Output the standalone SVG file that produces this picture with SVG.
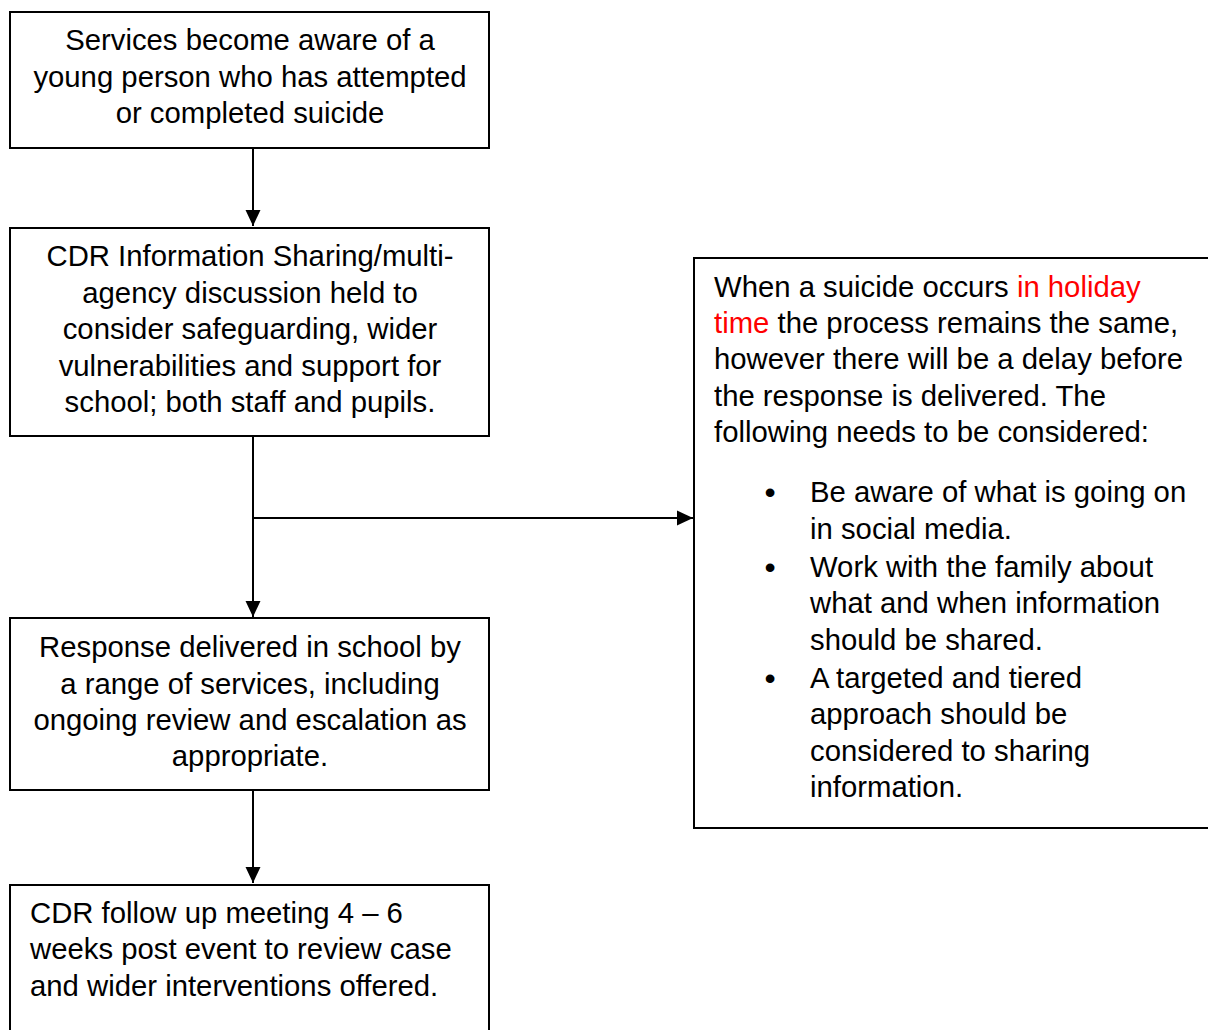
<svg xmlns="http://www.w3.org/2000/svg" width="1208" height="1030" viewBox="0 0 1208 1030">
<style>
.box{fill:#fff;stroke:#000;stroke-width:2}
.t{font-family:"Liberation Sans",Arial,sans-serif;font-size:29.3px;fill:#000}
.c{text-anchor:middle}
.red{fill:#ff0000}
.bul{font-family:"Liberation Sans",Arial,sans-serif;font-size:32px;fill:#000;text-anchor:middle}
.conn{stroke:#000;stroke-width:2;fill:none}
</style>
<defs>
<marker id="ah" markerUnits="userSpaceOnUse" markerWidth="16" markerHeight="16" viewBox="0 0 16 16" refX="16" refY="8" orient="auto">
<path d="M0,0.5 L16,8 L0,15.5 z" fill="#000"/>
</marker>
</defs>
<rect width="1208" height="1030" fill="#fff"/>
<g id="connectors">
<line class="conn" x1="253" y1="148" x2="253" y2="226" marker-end="url(#ah)"/>
<line class="conn" x1="253" y1="436" x2="253" y2="617" marker-end="url(#ah)"/>
<line class="conn" x1="253" y1="518" x2="693" y2="518" marker-end="url(#ah)"/>
<line class="conn" x1="253" y1="790" x2="253" y2="883" marker-end="url(#ah)"/>
</g>
<g id="node1">
<rect class="box" x="10" y="12" width="479" height="136"/>
<text class="t c" x="250" y="50">Services become aware of a</text>
<text class="t c" x="250" y="87">young person who has attempted</text>
<text class="t c" x="250" y="123">or completed suicide</text>
</g>
<g id="node2">
<rect class="box" x="10" y="228" width="479" height="208"/>
<text class="t c" x="250" y="266">CDR Information Sharing/multi-</text>
<text class="t c" x="250" y="303">agency discussion held to</text>
<text class="t c" x="250" y="339">consider safeguarding, wider</text>
<text class="t c" x="250" y="376">vulnerabilities and support for</text>
<text class="t c" x="250" y="412">school; both staff and pupils.</text>
</g>
<g id="node3">
<rect class="box" x="10" y="618" width="479" height="172"/>
<text class="t c" x="250" y="657">Response delivered in school by</text>
<text class="t c" x="250" y="694">a range of services, including</text>
<text class="t c" x="250" y="730">ongoing review and escalation as</text>
<text class="t c" x="250" y="766">appropriate.</text>
</g>
<g id="node4">
<rect class="box" x="10" y="885" width="479" height="160"/>
<text class="t" x="30" y="923">CDR follow up meeting 4 – 6</text>
<text class="t" x="30" y="959">weeks post event to review case</text>
<text class="t" x="30" y="996">and wider interventions offered.</text>
</g>
<g id="node5">
<rect class="box" x="694" y="258" width="530" height="570"/>
<text class="t" x="714" y="297">When a suicide occurs <tspan class="red">in holiday</tspan></text>
<text class="t" x="714" y="333"><tspan class="red">time</tspan> the process remains the same,</text>
<text class="t" x="714" y="369">however there will be a delay before</text>
<text class="t" x="714" y="406">the response is delivered. The</text>
<text class="t" x="714" y="442">following needs to be considered:</text>
<text class="bul" x="770" y="503">•</text>
<text class="t" x="810" y="502">Be aware of what is going on</text>
<text class="t" x="810" y="539">in social media.</text>
<text class="bul" x="770" y="578">•</text>
<text class="t" x="810" y="577">Work with the family about</text>
<text class="t" x="810" y="613">what and when information</text>
<text class="t" x="810" y="650">should be shared.</text>
<text class="bul" x="770" y="689">•</text>
<text class="t" x="810" y="688">A targeted and tiered</text>
<text class="t" x="810" y="724">approach should be</text>
<text class="t" x="810" y="761">considered to sharing</text>
<text class="t" x="810" y="797">information.</text>
</g>
</svg>
